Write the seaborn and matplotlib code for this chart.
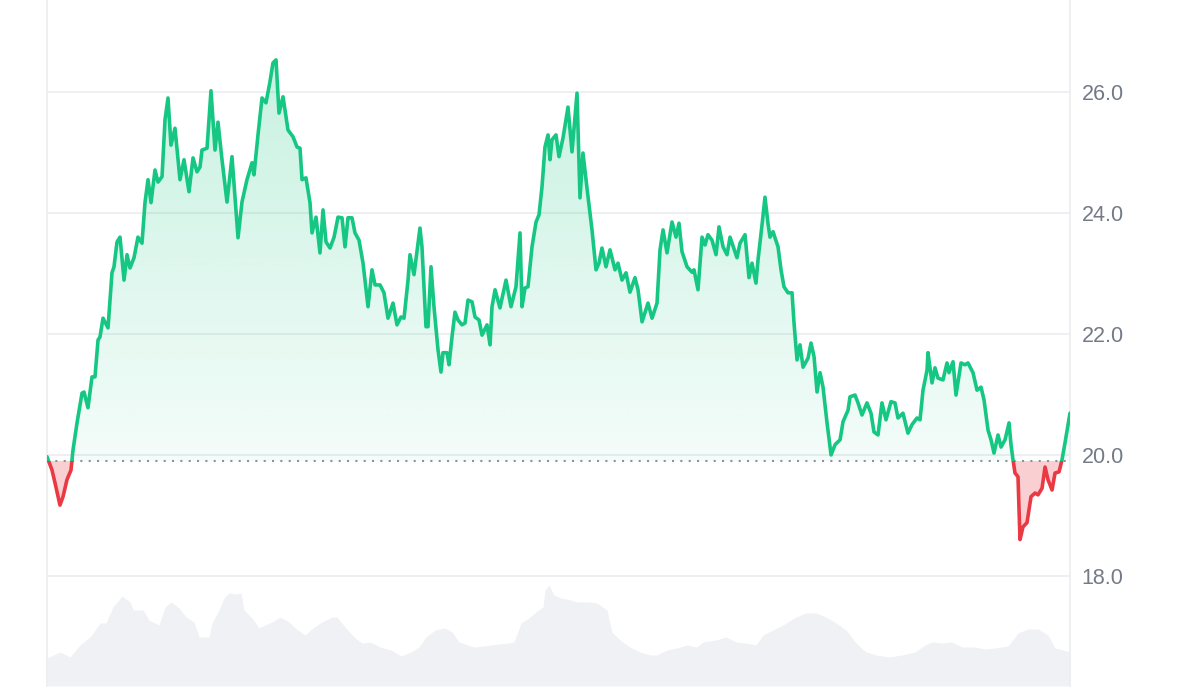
import numpy as np
import pandas as pd
import matplotlib
matplotlib.use("Agg")
import matplotlib.pyplot as plt
import seaborn as sns
from matplotlib.patches import Rectangle
from matplotlib.path import Path

# price over the last 7 days (hours since start)
hours = [0, 0.82, 1.31, 2.13, 2.63, 3.28, 3.94, 4.27, 4.93, 5.75,
         6.08, 6.73, 7.39, 7.88, 8.38, 8.70, 9.20, 10.02, 10.67, 11.00,
         11.50, 11.99, 12.65, 13.14, 13.63, 14.29, 14.94, 15.60, 16.09, 16.59,
         17.08, 17.74, 18.23, 18.89, 19.38, 19.87, 20.36, 21.02, 21.84, 22.50,
         23.32, 23.98, 24.63, 25.13, 25.45, 26.28, 26.93, 27.59, 28.08, 28.74,
         29.56, 30.38, 31.37, 32.02, 32.84, 33.67, 33.99, 34.65, 35.31, 35.96,
         36.62, 37.11, 37.61, 38.10, 38.76, 39.58, 40.40, 41.06, 41.55, 41.88,
         42.53, 43.19, 43.52, 44.18, 44.83, 45.33, 45.82, 46.48, 47.14, 47.79,
         48.45, 48.94, 49.43, 50.09, 50.58, 51.24, 51.90, 52.72, 53.37, 53.87,
         54.69, 55.34, 56.00, 56.82, 57.48, 58.13, 58.63, 59.29, 59.61, 60.27,
         61.25, 61.58, 62.24, 62.57, 63.06, 63.55, 64.21, 64.70, 65.03, 65.69,
         66.02, 66.51, 67.00, 67.50, 68.15, 68.65, 69.14, 69.80, 70.29, 70.95,
         71.44, 72.26, 72.76, 73.08, 73.58, 74.39, 75.38, 76.20, 77.02, 77.68,
         78.01, 78.50, 78.99, 79.65, 80.31, 80.80, 81.29, 81.78, 82.28, 82.61,
         82.93, 83.59, 84.08, 84.74, 85.56, 86.22, 87.04, 87.53, 88.02, 88.68,
         89.50, 90.16, 90.65, 91.14, 91.80, 92.46, 93.28, 93.77, 94.43, 95.09,
         95.74, 96.56, 97.06, 97.72, 98.70, 99.36, 100.18, 100.67, 101.17, 101.82,
         102.64, 103.30, 103.79, 104.28, 105.11, 105.93, 106.25, 106.91, 107.57, 108.06,
         108.55, 109.21, 109.87, 110.36, 111.02, 111.67, 112.17, 113.31, 113.81, 114.63,
         115.28, 115.78, 116.43, 116.76, 117.42, 117.91, 118.40, 118.73, 119.23, 120.05,
         120.54, 121.03, 121.69, 122.35, 122.68, 123.17, 123.66, 124.16, 124.98, 125.47,
         125.97, 126.46, 126.95, 127.44, 128.10, 128.76, 129.42, 130.24, 130.73, 131.55,
         131.87, 132.69, 133.19, 133.84, 134.66, 135.32, 135.81, 136.47, 137.12, 137.78,
         138.60, 139.26, 139.75, 140.57, 141.39, 142.05, 142.87, 143.37, 143.86, 144.52,
         144.68, 145.34, 145.83, 146.32, 147.14, 147.80, 148.13, 148.79, 149.28, 150.10,
         150.76, 151.25, 152.07, 152.73, 153.39, 153.88, 154.54, 155.03, 155.52, 156.18,
         156.67, 157.33, 157.99, 158.31, 158.64, 158.97, 159.46, 159.79, 160.28, 160.94,
         161.60, 162.26, 162.75, 163.41, 163.90, 164.39, 165.05, 165.54, 166.20, 166.69,
         167.18, 168.0]

prices = [19.97, 19.75, 19.54, 19.17, 19.31, 19.59, 19.75, 20.08, 20.53, 21.02,
          21.04, 20.78, 21.29, 21.29, 21.90, 21.95, 22.26, 22.10, 23.01, 23.11,
          23.52, 23.60, 22.89, 23.31, 23.09, 23.26, 23.60, 23.50, 24.17, 24.55,
          24.17, 24.71, 24.51, 24.60, 25.54, 25.90, 25.12, 25.40, 24.55, 24.88,
          24.35, 24.91, 24.68, 24.76, 25.04, 25.07, 26.02, 25.04, 25.50, 24.88,
          24.18, 24.93, 23.59, 24.18, 24.55, 24.83, 24.63, 25.29, 25.90, 25.82,
          26.17, 26.48, 26.53, 25.65, 25.92, 25.37, 25.26, 25.09, 25.07, 24.55,
          24.58, 24.17, 23.67, 23.93, 23.34, 24.05, 23.52, 23.42, 23.60, 23.93,
          23.92, 23.44, 23.92, 23.92, 23.67, 23.55, 23.17, 22.45, 23.06, 22.81,
          22.81, 22.68, 22.26, 22.51, 22.15, 22.28, 22.26, 22.89, 23.31, 22.98,
          23.75, 23.44, 22.12, 22.12, 23.11, 22.45, 21.74, 21.37, 21.69, 21.69,
          21.49, 21.95, 22.36, 22.23, 22.15, 22.18, 22.56, 22.53, 22.28, 22.23,
          21.98, 22.15, 21.82, 22.45, 22.73, 22.43, 22.89, 22.45, 22.78, 23.67,
          22.45, 22.76, 22.78, 23.44, 23.85, 23.97, 24.43, 25.09, 25.29, 24.88,
          25.21, 25.29, 24.93, 25.24, 25.75, 25.01, 25.98, 24.25, 24.99, 24.41,
          23.72, 23.06, 23.17, 23.42, 23.11, 23.39, 23.06, 23.17, 22.89, 23.01,
          22.69, 22.93, 22.73, 22.20, 22.51, 22.26, 22.51, 23.39, 23.72, 23.34,
          23.85, 23.60, 23.83, 23.36, 23.11, 23.02, 23.06, 22.73, 23.60, 23.47,
          23.64, 23.55, 23.31, 23.77, 23.44, 23.31, 23.60, 23.26, 23.50, 23.64,
          22.93, 23.17, 22.84, 23.22, 23.80, 24.26, 23.83, 23.60, 23.69, 23.44,
          23.06, 22.78, 22.68, 22.68, 22.18, 21.57, 21.82, 21.45, 21.60, 21.85,
          21.62, 21.04, 21.36, 21.12, 20.53, 20.00, 20.17, 20.25, 20.55, 20.74,
          20.96, 20.99, 20.86, 20.66, 20.86, 20.69, 20.38, 20.33, 20.86, 20.58,
          20.88, 20.86, 20.61, 20.69, 20.36, 20.50, 20.61, 20.58, 21.07, 21.40,
          21.69, 21.19, 21.44, 21.27, 21.24, 21.52, 21.36, 21.54, 20.99, 21.52,
          21.49, 21.52, 21.36, 21.07, 21.12, 20.91, 20.41, 20.25, 20.03, 20.33,
          20.13, 20.25, 20.53, 20.17, 19.92, 19.70, 19.64, 18.60, 18.81, 18.88,
          19.31, 19.37, 19.34, 19.45, 19.80, 19.59, 19.42, 19.70, 19.72, 19.92,
          20.20, 20.69]

# trading volume (relative units)
vol_hours = [0, 2.13, 3.78, 5.42, 7.06, 8.70, 9.69, 10.84, 12.32, 13.63,
             14.12, 15.77, 16.75, 18.39, 19.38, 20.36, 21.68, 22.83, 24.14, 24.96,
             26.60, 27.10, 28.25, 29.07, 29.89, 31.04, 31.86, 32.35, 33.67, 34.82,
             35.80, 36.95, 38.26, 39.74, 40.73, 42.37, 43.68, 45.16, 46.80, 47.62,
             48.94, 50.58, 51.73, 53.04, 54.69, 56.49, 58.13, 59.78, 61.09, 62.24,
             63.72, 65.36, 66.51, 67.66, 69.14, 70.12, 71.60, 72.91, 74.23, 75.71,
             76.69, 77.84, 79.15, 80.30, 81.45, 81.78, 82.44, 83.26, 84.41, 86.05,
             87.04, 87.53, 89.17, 90.32, 91.96, 92.78, 94.10, 95.74, 97.38, 99.02,
             100.17, 101.82, 103.46, 105.10, 106.74, 107.73, 109.86, 111.50, 113.15, 114.79,
             116.43, 117.58, 119.22, 120.87, 123.00, 124.64, 126.28, 127.93, 129.57, 131.21,
             132.85, 134.50, 136.14, 138.27, 140.41, 142.54, 144.18, 145.33, 146.98, 148.62,
             150.26, 152.39, 154.04, 155.68, 157.81, 159.46, 161.10, 162.75, 164.39, 165.54,
             168.0]
volume = [28, 34, 29, 41, 49, 63, 63, 79, 90, 84,
          76, 76, 66, 61, 79, 84, 78, 69, 64, 49,
          49, 63, 76, 88, 93, 92, 93, 76, 68, 58,
          61, 64, 69, 64, 58, 51, 58, 64, 69, 69,
          59, 48, 43, 44, 39, 36, 30, 34, 39, 49,
          56, 58, 54, 44, 41, 39, 40, 41, 42, 43,
          44, 63, 68, 74, 79, 96, 101, 91, 88, 86,
          84, 84, 84, 83, 76, 54, 46, 39, 34, 31,
          31, 36, 38, 41, 39, 44, 46, 49, 44, 43,
          41, 51, 56, 61, 69, 73, 73, 69, 63, 56,
          43, 34, 31, 29, 31, 34, 41, 44, 43, 44,
          39, 39, 37, 38, 40, 53, 57, 57, 51, 38,
          34]

base_price = 19.90
y_ticks = [18, 20, 22, 24, 26]
y_labels = ["18.0", "20.0", "22.0", "24.0", "26.0"]

GREEN = "#16c784"
RED = "#ea3943"
GRID = "#eceef1"
LABEL = "#737b87"

sns.set_style("white")
plt.rcParams["font.family"] = ["Liberation Sans", "DejaVu Sans"]

df = pd.DataFrame({"hour": hours, "price": prices})
h = df["hour"].to_numpy()
p = df["price"].to_numpy()

fig = plt.figure(figsize=(12, 7), dpi=100)
rect = [47 / 1200, 14 / 700, 1023 / 1200, 686 / 700]

# volume underneath
ax_vol = fig.add_axes(rect)
ax_vol.fill_between(vol_hours, 0, volume, color="#eff1f4", lw=0)
ax_vol.set_xlim(0, 168)
ax_vol.set_ylim(0, 686)
ax_vol.axis("off")

ax = fig.add_axes(rect)
ax.patch.set_visible(False)
ymin, ymax = 16.18, 27.52

# gradient fill above the opening price
up = ax.fill_between(h, p, base_price, where=p >= base_price, interpolate=True,
                     facecolor="none", edgecolor="none")
clip_up = Path.make_compound_path(*up.get_paths())
grad = np.zeros((256, 1, 4))
grad[..., :3] = matplotlib.colors.to_rgb(GREEN)
grad[:, 0, 3] = np.linspace(0.05, 0.24, 256)
im = ax.imshow(grad, extent=(0, 168, base_price, 26.6), origin="lower",
               aspect="auto", interpolation="bilinear", zorder=1)
im.set_clip_path(clip_up, transform=ax.transData)

# red fill below it
ax.fill_between(h, p, base_price, where=p < base_price, interpolate=True,
                color=RED, alpha=0.24, lw=0, zorder=1)

# line, green above / red below the baseline
sns.lineplot(data=df, x="hour", y="price", ax=ax, color=GREEN, lw=2.6,
             sort=False, estimator=None, zorder=3)
line_up = ax.lines[-1]
line_up.set_clip_path(Rectangle((0, base_price), 168, 20, transform=ax.transData))
sns.lineplot(data=df, x="hour", y="price", ax=ax, color=RED, lw=2.6,
             sort=False, estimator=None, zorder=3)
line_dn = ax.lines[-1]
line_dn.set_clip_path(Rectangle((0, base_price - 20), 168, 20, transform=ax.transData))
for ln in (line_up, line_dn):
    ln.set_solid_joinstyle("round")
    ln.set_solid_capstyle("round")

ax.axhline(base_price, color="#8d939c", lw=1.5, ls=(0, (1, 3)), zorder=2)

ax.set_xlim(0, 168)
ax.set_ylim(ymin, ymax)
ax.set_yticks(y_ticks)
ax.set_yticklabels(y_labels)
ax.set_xticks([])
ax.yaxis.tick_right()
ax.tick_params(axis="y", length=0, pad=8.5, labelsize=15.5, labelcolor=LABEL)
ax.yaxis.grid(True, color=GRID, lw=1.3, zorder=0)
ax.set_axisbelow(True)
ax.set_xlabel("")
ax.set_ylabel("")

for side in ("top", "bottom"):
    ax.spines[side].set_visible(False)
for side in ("left", "right"):
    ax.spines[side].set_color(GRID)
    ax.spines[side].set_linewidth(1.3)

fig.savefig("out.png", dpi=100, facecolor="white")
